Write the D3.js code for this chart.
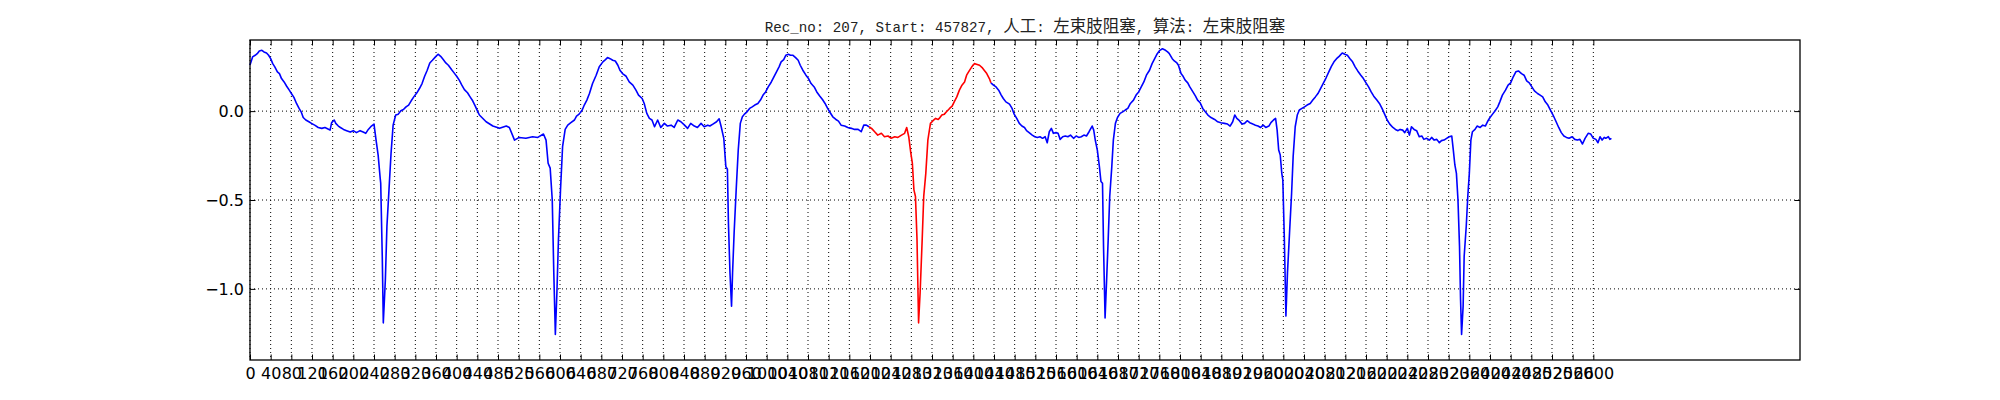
<!DOCTYPE html>
<html>
<head>
<meta charset="utf-8">
<script src="https://cdn.jsdelivr.net/npm/d3@7"></script>
<style>
  body { margin: 0; background: #fff; }
</style>
</head>
<body>
<svg width="2000" height="400"></svg>
<script>
let titleText = 'Rec_no: 207, Start: 457827, 人工: 左束肢阻塞, 算法: 左束肢阻塞'

// [sample no, amplitude], one array per stretch of the record
let ecgPart1 = [
  [0,0.260],[5,0.305],[10,0.314],[14,0.323],[18,0.338],[23,0.342],[27,0.333],[32,0.327],[36,0.314],[40,0.295],
  [44,0.267],[48,0.249],[53,0.221],[57,0.211],[61,0.183],[66,0.164],[71,0.140],[76,0.118],[81,0.095],[85,0.077],
  [90,0.043],[95,0.015],[99,-0.004],[103,-0.036],[108,-0.050],[114,-0.060],[119,-0.069],[126,-0.080],[132,-0.092],[139,-0.097],
  [145,-0.092],[150,-0.099],[155,-0.107],[158,-0.065],[163,-0.050],[166,-0.069],[171,-0.084],[175,-0.092],[181,-0.103],[187,-0.110],
  [194,-0.118],[200,-0.110],[206,-0.121],[213,-0.110],[219,-0.118],[224,-0.125],[229,-0.103],[235,-0.084],[240,-0.073],[244,-0.163],
  [248,-0.247],[252,-0.378],[253,-0.406],[256,-0.817],[258,-1.191],[262,-0.948],[265,-0.649],[269,-0.443],[273,-0.237],[277,-0.079],
  [282,-0.022],[287,-0.017],[292,0.002],[297,0.009],[302,0.024],[307,0.034],[312,0.058],[317,0.080],[323,0.103],[328,0.127],
  [333,0.155],[338,0.196],[343,0.230],[348,0.271],[353,0.286],[359,0.305],[364,0.320],[369,0.308],[374,0.290],[379,0.271],
  [384,0.258],[390,0.234],[395,0.215],[400,0.196],[405,0.174],[410,0.146],[415,0.121],[421,0.103],[426,0.080],[431,0.058],
  [436,0.028],[441,-0.004]
]
let ecgPart2 = [
  [444,-0.022],[457,-0.060],[470,-0.084],[483,-0.097],[496,-0.084],[502,-0.092],[512,-0.163],[521,-0.148],[534,-0.153],[547,-0.144],
  [557,-0.148],[568,-0.129],[573,-0.163],[577,-0.293],[581,-0.321],[585,-0.499],[588,-0.910],[591,-1.256],[594,-1.022],[597,-0.723],
  [601,-0.443],[605,-0.200],[610,-0.103],[615,-0.079],[621,-0.065],[628,-0.050],[632,-0.028],[637,-0.017],[643,0.006],[647,0.034],
  [652,0.062],[657,0.099],[663,0.155],[670,0.202],[676,0.249],[683,0.277],[688,0.290],[692,0.301],[697,0.295],[702,0.286],
  [707,0.282],[712,0.258],[716,0.230],[721,0.211],[728,0.196],[734,0.164],[741,0.146],[747,0.118],[752,0.090],[759,0.071],
  [763,0.043],[768,-0.013],[773,-0.041],[778,-0.050],[783,-0.088],[789,-0.050],[795,-0.092],[802,-0.069],[808,-0.084],[815,-0.079],
  [821,-0.092],[828,-0.050],[834,-0.060],[841,-0.079],[847,-0.097],[853,-0.069],[860,-0.084],[866,-0.092],[873,-0.069],[879,-0.088],
  [886,-0.079]
]
let ecgPart3 = [
  [890,-0.084],[896,-0.073],[903,-0.060],[908,-0.043],[912,-0.088],[917,-0.153],[921,-0.312],[924,-0.327],[926,-0.630],[929,-0.910],
  [932,-1.097],[934,-0.910],[937,-0.686],[941,-0.443],[945,-0.219],[949,-0.069],[953,-0.032],[957,-0.017],[962,-0.004],[967,0.015],
  [972,0.024],[977,0.034],[983,0.043],[988,0.062],[993,0.090],[998,0.108],[1003,0.136],[1009,0.164],[1014,0.193],[1019,0.221],
  [1024,0.249],[1028,0.277],[1033,0.290],[1037,0.314],[1042,0.320],[1046,0.314],[1051,0.314],[1056,0.301],[1061,0.286],[1065,0.258],
  [1070,0.230],[1076,0.202],[1081,0.183],[1086,0.155],[1092,0.136],[1097,0.108],[1103,0.084],[1108,0.065],[1113,0.043],[1118,0.015],
  [1123,-0.009],[1128,-0.032],[1134,-0.047],[1139,-0.056],[1144,-0.079],[1151,-0.084],[1157,-0.092],[1164,-0.097],[1170,-0.103],[1177,-0.103],
  [1183,-0.116],[1188,-0.079],[1193,-0.079],[1198,-0.088],[1203,-0.097],[1209,-0.116],[1215,-0.135],[1222,-0.125],[1228,-0.144],[1235,-0.140],
  [1241,-0.153],[1248,-0.144],[1254,-0.148],[1261,-0.135],[1267,-0.125],[1271,-0.092],[1275,-0.144],[1279,-0.237],[1282,-0.293],[1285,-0.443],
  [1288,-0.480],[1291,-0.723],[1294,-1.191],[1297,-1.022],[1301,-0.723],[1304,-0.480],[1308,-0.350],[1312,-0.163],[1317,-0.069],[1322,-0.054],
  [1327,-0.041],[1332,-0.047]
]
let ecgPart4 = [
  [1334,-0.041],[1339,-0.022],[1344,-0.017],[1348,-0.004],[1354,0.015],[1359,0.028],[1363,0.052],[1368,0.080],[1373,0.118],[1378,0.146],
  [1383,0.164],[1387,0.202],[1392,0.226],[1397,0.249],[1402,0.267],[1406,0.264],[1412,0.258],[1417,0.245],[1421,0.230],[1426,0.211],
  [1431,0.183],[1434,0.159],[1439,0.146],[1444,0.136],[1449,0.118],[1454,0.090],[1458,0.071],[1463,0.052],[1470,0.039],[1475,0.015],
  [1479,-0.017],[1484,-0.041],[1489,-0.069],[1494,-0.084],[1499,-0.092],[1503,-0.110],[1508,-0.121],[1514,-0.135],[1519,-0.144],[1524,-0.148],
  [1529,-0.144],[1534,-0.153],[1539,-0.144],[1543,-0.178],[1547,-0.116],[1551,-0.097],[1555,-0.125],[1560,-0.121],[1564,-0.125],[1568,-0.159],
  [1573,-0.144],[1578,-0.140],[1583,-0.144],[1588,-0.135],[1594,-0.153],[1599,-0.140],[1604,-0.148],[1609,-0.144],[1614,-0.135],[1619,-0.140],
  [1624,-0.116],[1630,-0.084],[1633,-0.107],[1636,-0.163],[1640,-0.219],[1644,-0.312],[1647,-0.396],[1650,-0.406],[1652,-0.761],[1655,-1.163],
  [1658,-0.948],[1661,-0.723],[1664,-0.480],[1668,-0.312],[1671,-0.163],[1675,-0.069],[1679,-0.036],[1684,-0.013],[1689,-0.004],[1694,0.006],
  [1699,0.015],[1704,0.043],[1710,0.062],[1715,0.090],[1720,0.108],[1725,0.136],[1730,0.164],[1735,0.202],[1741,0.230],[1746,0.267],
  [1751,0.295],[1756,0.323],[1761,0.342],[1766,0.351],[1772,0.342],[1776,0.333]
]
let ecgPart5 = [
  [1779,0.325],[1785,0.295],[1789,0.282],[1794,0.271],[1797,0.258],[1802,0.211],[1806,0.196],[1810,0.174],[1815,0.159],[1819,0.136],
  [1825,0.108],[1830,0.084],[1834,0.062],[1839,0.047],[1844,0.015],[1849,-0.004],[1854,-0.022],[1860,-0.036],[1867,-0.047],[1873,-0.060],
  [1879,-0.065],[1886,-0.069],[1892,-0.073],[1897,-0.084],[1902,-0.060],[1906,-0.022],[1910,-0.041],[1915,-0.054],[1920,-0.073],[1925,-0.069],
  [1930,-0.054],[1935,-0.065],[1941,-0.073],[1946,-0.079],[1951,-0.084],[1956,-0.092],[1961,-0.079],[1966,-0.092],[1972,-0.084],[1976,-0.065],
  [1981,-0.050],[1985,-0.041],[1988,-0.107],[1991,-0.219],[1994,-0.247],[1997,-0.350],[1999,-0.387],[2002,-0.723],[2005,-1.153],[2008,-0.910],
  [2012,-0.686],[2016,-0.462],[2019,-0.256],[2023,-0.088],[2027,-0.022],[2031,0.006],[2036,0.015],[2041,0.024],[2046,0.034],[2052,0.043],
  [2057,0.062],[2062,0.080],[2067,0.099],[2072,0.127],[2077,0.155],[2083,0.189],[2088,0.221],[2093,0.252],[2098,0.277],[2103,0.295],
  [2108,0.308],[2114,0.327],[2119,0.320],[2124,0.314],[2129,0.295],[2134,0.277],[2139,0.249],[2144,0.226],[2150,0.202],[2155,0.183],
  [2160,0.159],[2165,0.136],[2170,0.108],[2175,0.084],[2181,0.062],[2186,0.043],[2191,0.015],[2196,-0.017],[2201,-0.050],[2206,-0.073],
  [2212,-0.092],[2217,-0.103],[2222,-0.110]
]
let ecgPart6 = [
  [2226,-0.103],[2231,-0.107],[2235,-0.121],[2240,-0.097],[2244,-0.135],[2248,-0.088],[2253,-0.103],[2258,-0.110],[2263,-0.144],[2268,-0.140],
  [2272,-0.159],[2277,-0.153],[2283,-0.163],[2287,-0.148],[2292,-0.163],[2297,-0.159],[2302,-0.178],[2306,-0.166],[2311,-0.163],[2316,-0.153],
  [2321,-0.144],[2326,-0.140],[2329,-0.219],[2332,-0.303],[2335,-0.350],[2338,-0.499],[2341,-0.761],[2343,-1.060],[2345,-1.256],[2348,-1.097],
  [2350,-0.817],[2354,-0.649],[2357,-0.480],[2360,-0.350],[2363,-0.163],[2366,-0.116],[2371,-0.103],[2375,-0.084],[2381,-0.092],[2386,-0.079],
  [2391,-0.084],[2395,-0.060],[2400,-0.036],[2405,-0.017],[2410,0.002],[2415,0.024],[2419,0.052],[2424,0.090],[2430,0.118],[2435,0.146],
  [2440,0.159],[2445,0.193],[2450,0.221],[2455,0.226],[2461,0.211],[2466,0.202],[2471,0.170],[2476,0.159],[2481,0.136],[2486,0.114],
  [2492,0.099],[2497,0.090],[2502,0.080],[2507,0.052],[2512,0.034],[2517,0.006],[2522,-0.022],[2528,-0.060],[2533,-0.092],[2538,-0.121],
  [2543,-0.140],[2548,-0.148],[2553,-0.153],[2559,-0.144],[2564,-0.159],[2569,-0.163],[2574,-0.159],[2579,-0.185],[2584,-0.153],[2590,-0.125],
  [2595,-0.129],[2600,-0.153],[2605,-0.159],[2609,-0.178],[2613,-0.144],[2617,-0.163],[2621,-0.148],[2624,-0.153],[2629,-0.144],[2632,-0.159],
  [2635,-0.153]
]

// the annotated beat drawn in red
let redFrom = 1198
let redTo = 1434

let xTicks = [0,40,80,120,160,200,240,280,320,360,400,440,480,520,560,600,640,680,720,760,800,
  840,880,920,960,1000,1040,1080,1120,1160,1200,1240,1280,1320,1360,1400,1440,1480,1520,1560,1600,
  1640,1680,1720,1760,1800,1840,1880,1920,1960,2000,2040,2080,2120,2160,2200,2240,2280,2320,2360,2400,
  2440,2480,2520,2560,2600]
let yTicks = [-1.0, -0.5, 0.0]
let xDomain = [0, 3000]
let yDomain = [-1.4, 0.4]

let svg = d3.select('svg')
let plotLeft = 250, plotRight = 1800, plotTop = 40, plotBottom = 360
let tickFont = '"DejaVu Sans", sans-serif'

let xScale = d3.scaleLinear().domain(xDomain).range([plotLeft, plotRight])
let yScale = d3.scaleLinear().domain(yDomain).range([plotBottom, plotTop])

svg.append('rect')
    .attr('width', 2000)
    .attr('height', 400)
    .attr('fill', '#fff')

// dotted grid
svg.append('g')
    .selectAll('line')
    .data(xTicks)
    .enter()
    .append('line')
    .attr('x1', d => xScale(d))
    .attr('x2', d => xScale(d))
    .attr('y1', plotTop)
    .attr('y2', plotBottom)
    .attr('stroke', '#000')
    .attr('stroke-width', 1)
    .attr('stroke-dasharray', '1,3')

svg.append('g')
    .selectAll('line')
    .data(yTicks)
    .enter()
    .append('line')
    .attr('x1', plotLeft)
    .attr('x2', plotRight)
    .attr('y1', d => yScale(d))
    .attr('y2', d => yScale(d))
    .attr('stroke', '#000')
    .attr('stroke-width', 1)
    .attr('stroke-dasharray', '1,3')

// trace: blue before and after the annotated beat, red on it
let ecg = [].concat(ecgPart1, ecgPart2, ecgPart3, ecgPart4, ecgPart5, ecgPart6)
let line = d3.line()
    .x(d => xScale(d[0]))
    .y(d => yScale(d[1]))

let pieces = [
    { pts: ecg.filter(d => d[0] <= redFrom), color: '#0000ff' },
    { pts: ecg.filter(d => d[0] >= redTo), color: '#0000ff' },
    { pts: ecg.filter(d => d[0] >= redFrom && d[0] <= redTo), color: '#ff0000' }
]

svg.append('g')
    .selectAll('path')
    .data(pieces)
    .enter()
    .append('path')
    .attr('d', d => line(d.pts))
    .attr('fill', 'none')
    .attr('stroke', d => d.color)
    .attr('stroke-width', 1.6)
    .attr('stroke-linejoin', 'round')

// axes, ticks pointing inwards on all four sides
let styleAxis = g => {
    g.select('.domain').remove()
    g.selectAll('line').attr('stroke', '#000').attr('stroke-width', 1)
    g.selectAll('text')
        .attr('fill', '#000')
        .style('font-family', tickFont)
        .style('font-size', '16px')
}

svg.append('g')
    .attr('transform', `translate(0,${plotBottom})`)
    .call(d3.axisBottom(xScale).tickValues(xTicks).tickSize(-5.5).tickPadding(8).tickFormat(d3.format('d')))
    .call(styleAxis)

svg.append('g')
    .attr('transform', `translate(0,${plotTop})`)
    .call(d3.axisTop(xScale).tickValues(xTicks).tickSize(-5.5).tickFormat(''))
    .call(styleAxis)

svg.append('g')
    .attr('transform', `translate(${plotLeft},0)`)
    .call(d3.axisLeft(yScale).tickValues(yTicks).tickSize(-5.5).tickPadding(6).tickFormat(d3.format('.1f')))
    .call(styleAxis)

svg.append('g')
    .attr('transform', `translate(${plotRight},0)`)
    .call(d3.axisRight(yScale).tickValues(yTicks).tickSize(-5.5).tickFormat(''))
    .call(styleAxis)

// frame
svg.append('rect')
    .attr('x', plotLeft)
    .attr('y', plotTop)
    .attr('width', plotRight - plotLeft)
    .attr('height', plotBottom - plotTop)
    .attr('fill', 'none')
    .attr('stroke', '#000')
    .attr('stroke-width', 1.3)

// title: latin part in a mono face, chinese part a bit larger
let title = svg.append('text')
    .attr('x', (plotLeft + plotRight) / 2)
    .attr('y', 32)
    .attr('text-anchor', 'middle')
    .attr('fill', '#222')

titleText.split(/([\u4e00-\u9fff]+)/).filter(s => s.length).forEach(s => {
    let cjk = /[\u4e00-\u9fff]/.test(s)
    title.append('tspan')
        .attr('font-family', cjk ? '"Noto Sans CJK SC"' : '"Liberation Mono", monospace')
        .attr('font-size', cjk ? '16.5px' : '14.2px')
        .attr('xml:space', 'preserve')
        .text(s)
})
</script>
</body>
</html>
